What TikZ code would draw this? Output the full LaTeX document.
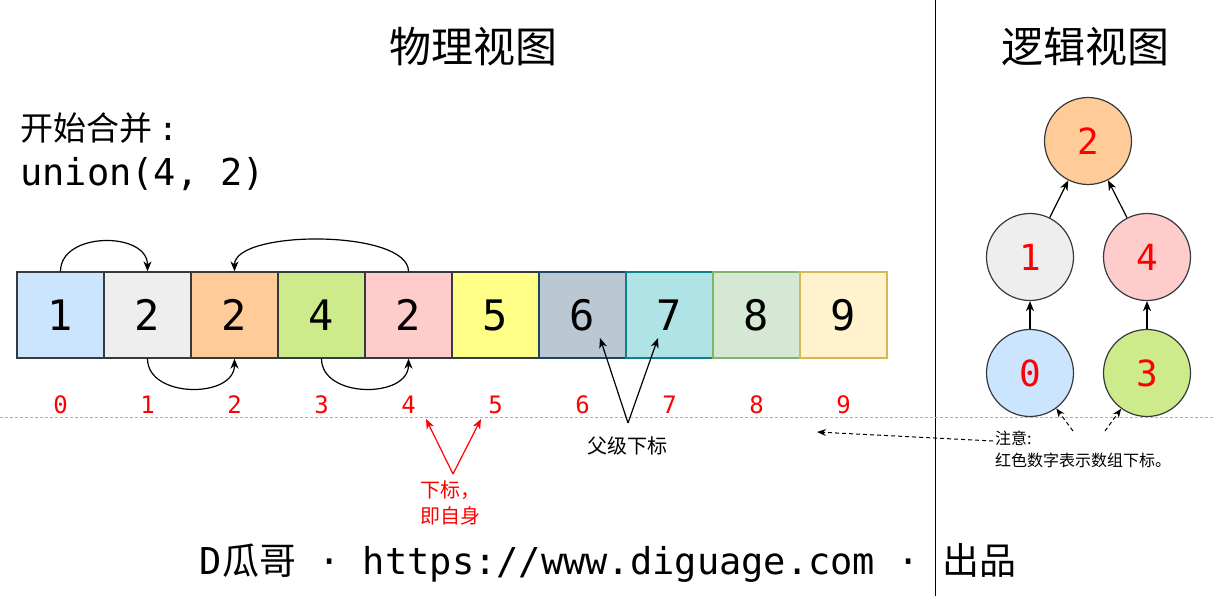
\documentclass[tikz,border=0pt]{standalone}
\usepackage{fontspec}
\setmainfont{DejaVu Sans Mono}
\newfontfamily\cjk{Noto Sans CJK SC}
\usetikzlibrary{arrows.meta}
\definecolor{dgray}{HTML}{36393D}
\definecolor{fblue}{HTML}{CCE5FF}
\definecolor{fgray}{HTML}{EEEEEE}
\definecolor{forange}{HTML}{FFCC99}
\definecolor{fgreen}{HTML}{CDEB8B}
\definecolor{fpink}{HTML}{FFCCCC}
\definecolor{fyellow}{HTML}{FFFF88}
\definecolor{fslate}{HTML}{BAC8D3}
\definecolor{dslate}{HTML}{23445D}
\definecolor{fteal}{HTML}{B0E3E6}
\definecolor{dteal}{HTML}{0E8088}
\definecolor{fmint}{HTML}{D5E8D4}
\definecolor{dmint}{HTML}{82B366}
\definecolor{fcream}{HTML}{FFF2CC}
\definecolor{dcream}{HTML}{D6B656}
\definecolor{idxred}{HTML}{FF0000}
\begin{document}
\begin{tikzpicture}[x=1pt,y=-1pt,
  cell/.style={draw=dgray, line width=1.3pt, minimum width=87pt, minimum height=86pt, inner sep=0pt, font=\fontsize{42}{46}\selectfont},
  idx/.style={text=idxred, font=\fontsize{24}{28}\selectfont},
  tnode/.style={circle, draw=dgray, line width=1.2pt, minimum size=87pt, inner sep=0pt, text=idxred, font=\fontsize{36}{40}\selectfont},
  link/.style={-{Stealth[length=10pt,width=8pt,inset=3pt]}, line width=1.2pt},
  hint/.style={-{Stealth[length=9pt,width=7pt,inset=3pt]}, line width=1pt, dash pattern=on 4pt off 3pt}]
\useasboundingbox (0,0) rectangle (1215,596);
\draw[line width=1pt] (935,0) -- (935,596);
\draw[gray!60, line width=0.8pt, dash pattern=on 3pt off 2pt] (0,417) -- (1215,417);
\node[font=\fontsize{42}{46}\selectfont\cjk] (phys) at (473,47) {物理视图};
\node[font=\fontsize{42}{46}\selectfont\cjk] (logi) at (1085,47) {逻辑视图};
\node[anchor=west, inner sep=0pt, font=\fontsize{33}{36}\selectfont] (start) at (20,128) {{\cjk 开始合并}\hspace{6pt}:};
\node[anchor=west, inner sep=0pt, font=\fontsize{37}{40}\selectfont] (call) at (20,174) {union(4, 2)};
% array
\node[cell, fill=fblue] (c0) at (60.5,315) {1};
\node[cell, fill=fgray] (c1) at (147.5,315) {2};
\node[cell, fill=forange] (c2) at (234.5,315) {2};
\node[cell, fill=fgreen] (c3) at (321.5,315) {4};
\node[cell, fill=fpink] (c4) at (408.5,315) {2};
\node[cell, fill=fyellow] (c5) at (495.5,315) {5};
\node[cell, fill=fslate, draw=dslate] (c6) at (582.5,315) {6};
\node[cell, fill=fteal, draw=dteal] (c7) at (669.5,315) {7};
\node[cell, fill=fmint, draw=dmint] (c8) at (756.5,315) {8};
\node[cell, fill=fcream, draw=dcream] (c9) at (843.5,315) {9};
\node[idx] (i0) at (60.5,405) {0};
\node[idx] (i1) at (147.5,405) {1};
\node[idx] (i2) at (234.5,405) {2};
\node[idx] (i3) at (321.5,405) {3};
\node[idx] (i4) at (408.5,405) {4};
\node[idx] (i5) at (495.5,405) {5};
\node[idx] (i6) at (582.5,405) {6};
\node[idx] (i7) at (669.5,405) {7};
\node[idx] (i8) at (756.5,405) {8};
\node[idx] (i9) at (843.5,405) {9};
\draw[link] (c0.north) .. controls +(0,-40) and +(0,-40) .. (c1.north);
\draw[link] (c4.north) .. controls +(0,-42) and +(0,-42) .. (c2.north);
\draw[link] (c1.south) .. controls +(0,40) and +(0,40) .. (c2.south);
\draw[link] (c3.south) .. controls +(0,40) and +(0,40) .. (c4.south);
% parent index
\coordinate (pa) at (628,423);
\coordinate (pa6) at (600,338);
\coordinate (pa7) at (658,338);
\draw[link] (pa) -- (pa6);
\draw[link] (pa) -- (pa7);
\node[font=\fontsize{20}{24}\selectfont\cjk] (plabel) at (627,446) {父级下标};
% own index
\coordinate (sa) at (453,474);
\coordinate (sa4) at (426,419);
\coordinate (sa5) at (481,419);
\draw[link, idxred] (sa) -- (sa4);
\draw[link, idxred] (sa) -- (sa5);
\node[anchor=north west, inner sep=0pt, align=left, text=idxred, font=\fontsize{20}{26}\selectfont\cjk] (slabel) at (420,480) {下标，\\即自身};
% tree
\node[tnode, fill=forange] (t2) at (1088,141) {2};
\node[tnode, fill=fgray] (t1) at (1030,257) {1};
\node[tnode, fill=fpink] (t4) at (1147,257) {4};
\node[tnode, fill=fblue] (t0) at (1030,373) {0};
\node[tnode, fill=fgreen] (t3) at (1147,373) {3};
\draw[link] (t1) -- (t2);
\draw[link] (t4) -- (t2);
\draw[link] (t0) -- (t1);
\draw[link] (t3) -- (t4);
% note
\node[anchor=north west, inner sep=0pt, align=left, font=\fontsize{16}{22}\selectfont\cjk] (note) at (995,431) {注意:\\红色数字表示数组下标。};
\coordinate (n0) at (1073,431);
\coordinate (n3) at (1105,431);
\coordinate (nl) at (993,441);
\draw[hint] (n0) -- (t0);
\draw[hint] (n3) -- (t3);
\draw[hint] (nl) -- (817,432);
% footer
\node[font=\fontsize{37}{40}\selectfont] (credit) at (608,563) {D{\cjk 瓜哥} · https://www.diguage.com · {\cjk 出品}};
\end{tikzpicture}
\end{document}
